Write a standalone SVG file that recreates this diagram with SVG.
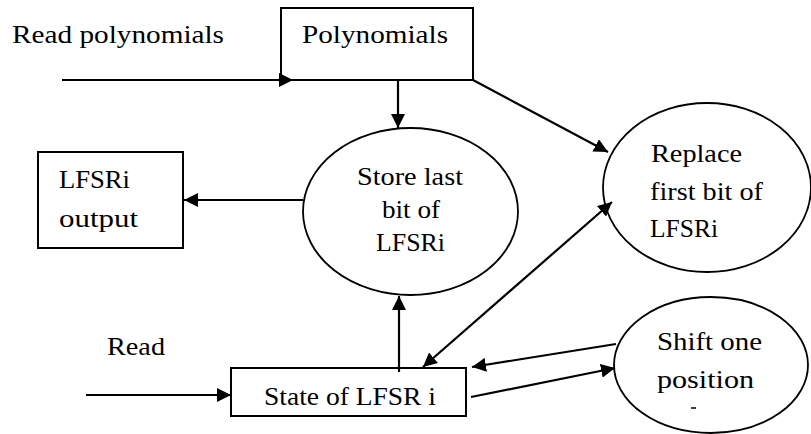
<svg xmlns="http://www.w3.org/2000/svg" width="811" height="434" viewBox="0 0 811 434" font-family="Liberation Serif, DejaVu Serif, serif" font-size="25">
<style>
  text { font-family: 'Liberation Serif', 'DejaVu Serif', serif; font-size: 25px; fill: #000; }
  .box { fill: #fff; stroke: #000; stroke-width: 2; }
  .ell { fill: #fff; stroke: #000; stroke-width: 1.8; }
  .c { fill: none; stroke: #000; stroke-width: 2.2; }
</style>
<defs>
  <marker id="ah" markerUnits="userSpaceOnUse" markerWidth="15" markerHeight="14" refX="14" refY="7" orient="auto-start-reverse" viewBox="0 0 15 14">
    <path d="M0,0 L14,7 L0,14 z" fill="#000"/>
  </marker>
</defs>
<rect width="811" height="434" fill="#fff"/>

<g id="node-polynomials">
  <rect class="box" x="281" y="8" width="192" height="72"/>
  <text x="302" y="43" textLength="146" lengthAdjust="spacingAndGlyphs">Polynomials</text>
</g>
<g id="node-store">
  <ellipse class="ell" cx="410.5" cy="211.5" rx="107.5" ry="83.5"/>
  <text x="357" y="185" textLength="106" lengthAdjust="spacingAndGlyphs">Store last</text>
  <text x="382" y="218" textLength="58" lengthAdjust="spacingAndGlyphs">bit of</text>
  <text x="376" y="251" textLength="69" lengthAdjust="spacingAndGlyphs">LFSRi</text>
</g>
<g id="node-replace">
  <ellipse class="ell" cx="707" cy="187.5" rx="104" ry="84.5"/>
  <text x="651" y="162" textLength="91" lengthAdjust="spacingAndGlyphs">Replace</text>
  <text x="650" y="200" textLength="113" lengthAdjust="spacingAndGlyphs">first bit of</text>
  <text x="650" y="237" textLength="68" lengthAdjust="spacingAndGlyphs">LFSRi</text>
</g>
<g id="node-output">
  <rect class="box" x="38" y="152" width="145" height="96"/>
  <text x="59" y="188" textLength="71" lengthAdjust="spacingAndGlyphs">LFSRi</text>
  <text x="59" y="227" textLength="79" lengthAdjust="spacingAndGlyphs">output</text>
</g>
<g id="node-state">
  <rect class="box" x="231" y="368" width="235" height="48"/>
  <text x="264" y="405" textLength="172" lengthAdjust="spacingAndGlyphs">State of LFSR i</text>
</g>
<g id="node-shift">
  <ellipse class="ell" cx="711" cy="365" rx="97" ry="68"/>
  <text x="657" y="350" textLength="105" lengthAdjust="spacingAndGlyphs">Shift one</text>
  <text x="657" y="388" textLength="97" lengthAdjust="spacingAndGlyphs">position</text>
  <line x1="691" y1="408" x2="696" y2="408" stroke="#000" stroke-width="1.5"/>
</g>
<g id="labels">
  <text x="12" y="43" textLength="212" lengthAdjust="spacingAndGlyphs">Read polynomials</text>
  <text x="107" y="355" textLength="58" lengthAdjust="spacingAndGlyphs">Read</text>
</g>

<g id="connectors">
  <line class="c" x1="62" y1="80" x2="293" y2="80" marker-end="url(#ah)"/>
  <line class="c" x1="398" y1="80" x2="398" y2="128" marker-end="url(#ah)"/>
  <line class="c" x1="473" y1="80" x2="608" y2="152" marker-end="url(#ah)"/>
  <line class="c" x1="303" y1="200" x2="184" y2="200" marker-end="url(#ah)"/>
  <line class="c" x1="399" y1="372" x2="399" y2="296" marker-end="url(#ah)"/>
  <line class="c" x1="86" y1="395" x2="231" y2="395" marker-end="url(#ah)"/>
  <line class="c" x1="423" y1="367" x2="612" y2="202" marker-start="url(#ah)" marker-end="url(#ah)"/>
  <line class="c" x1="616" y1="344" x2="472" y2="367" marker-end="url(#ah)"/>
  <line class="c" x1="471" y1="397" x2="615" y2="368" marker-end="url(#ah)"/>
</g>
</svg>
